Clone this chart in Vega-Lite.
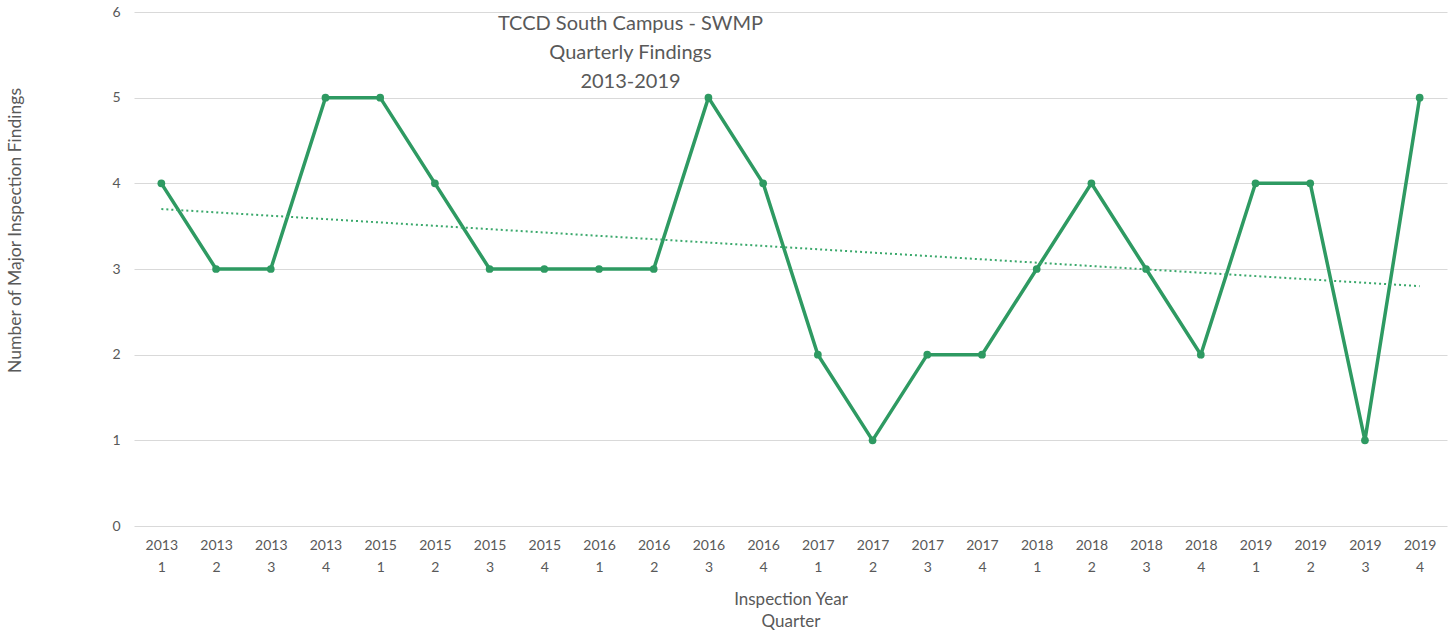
{
  "$schema": "https://vega.github.io/schema/vega-lite/v6.json",
  "width": 1313,
  "height": 514,
  "autosize": {"type": "none"},
  "padding": {"left": 134, "top": 12, "right": 8, "bottom": 106},
  "background": "white",
  "config": {
    "font": "Lato",
    "view": {"stroke": null}
  },
  "title": {
    "text": ["TCCD South Campus - SWMP", "Quarterly Findings", "2013-2019"],
    "fontSize": 20,
    "fontWeight": "normal",
    "color": "#595959",
    "lineHeight": 29,
    "anchor": "middle",
    "offset": -87,
    "dx": -160,
    "orient": "top",
    "frame": "group"
  },
  "data": {
    "values": [
      {"idx": 1, "label": "2013\n1", "v": 4},
      {"idx": 2, "label": "2013\n2", "v": 3},
      {"idx": 3, "label": "2013\n3", "v": 3},
      {"idx": 4, "label": "2013\n4", "v": 5},
      {"idx": 5, "label": "2015\n1", "v": 5},
      {"idx": 6, "label": "2015\n2", "v": 4},
      {"idx": 7, "label": "2015\n3", "v": 3},
      {"idx": 8, "label": "2015\n4", "v": 3},
      {"idx": 9, "label": "2016\n1", "v": 3},
      {"idx": 10, "label": "2016\n2", "v": 3},
      {"idx": 11, "label": "2016\n3", "v": 5},
      {"idx": 12, "label": "2016\n4", "v": 4},
      {"idx": 13, "label": "2017\n1", "v": 2},
      {"idx": 14, "label": "2017\n2", "v": 1},
      {"idx": 15, "label": "2017\n3", "v": 2},
      {"idx": 16, "label": "2017\n4", "v": 2},
      {"idx": 17, "label": "2018\n1", "v": 3},
      {"idx": 18, "label": "2018\n2", "v": 4},
      {"idx": 19, "label": "2018\n3", "v": 3},
      {"idx": 20, "label": "2018\n4", "v": 2},
      {"idx": 21, "label": "2019\n1", "v": 4},
      {"idx": 22, "label": "2019\n2", "v": 4},
      {"idx": 23, "label": "2019\n3", "v": 1},
      {"idx": 24, "label": "2019\n4", "v": 5}
    ]
  },
  "layer": [
    {
      "encoding": {
        "x": {
          "field": "label",
          "type": "ordinal",
          "sort": {"field": "idx"},
          "scale": {"type": "point", "padding": 0.5},
          "axis": {
            "title": ["Inspection Year", "Quarter"],
            "titleFontSize": 17,
            "titleFontWeight": "normal",
            "titleColor": "#595959",
            "titleLineHeight": 22,
            "titlePadding": 17,
            "labelExpr": "split(datum.label, '\\n')",
            "labelAngle": 0,
            "labelFontSize": 14,
            "labelColor": "#595959",
            "labelLineHeight": 22,
            "labelPadding": 12,
            "labelBaseline": "top",
            "ticks": false,
            "domain": false,
            "grid": false,
            "orient": "bottom"
          }
        },
        "y": {
          "field": "v",
          "type": "quantitative",
          "scale": {"domain": [0, 6]},
          "axis": {
            "title": "Number of Major Inspection Findings",
            "titleFontSize": 17.5,
            "titleFontWeight": "normal",
            "titleColor": "#595959",
            "titleAngle": -90,
            "titleX": -119,
            "titleY": 218,
            "titleAlign": "center",
            "titleBaseline": "middle",
            "values": [0, 1, 2, 3, 4, 5, 6],
            "format": "d",
            "labelOverlap": false,
            "labelFontSize": 14,
            "labelColor": "#595959",
            "labelPadding": 14,
            "ticks": false,
            "domain": false,
            "grid": true,
            "gridColor": "#d9d9d9",
            "gridWidth": 1
          }
        }
      },
      "layer": [
        {"mark": {"type": "line", "color": "#2e9a62", "strokeWidth": 3.5}},
        {"mark": {"type": "point", "filled": true, "color": "#2e9a62", "size": 60, "opacity": 1}}
      ]
    },
    {
      "transform": [{"regression": "v", "on": "idx"}],
      "mark": {"type": "line", "color": "#3aa86b", "strokeWidth": 2, "strokeDash": [2, 3]},
      "encoding": {
        "x": {
          "field": "idx",
          "type": "quantitative",
          "scale": {"domain": [0.5, 24.5], "nice": false, "zero": false},
          "axis": null
        },
        "y": {"field": "v", "type": "quantitative"}
      }
    }
  ],
  "resolve": {"scale": {"x": "independent"}}
}
